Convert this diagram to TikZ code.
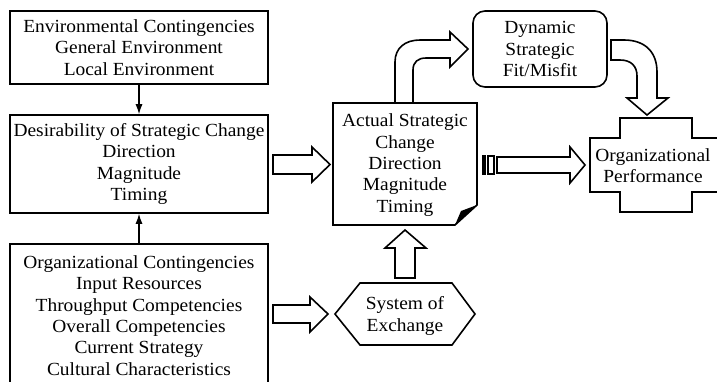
\documentclass[tikz,border=0pt]{standalone}
\usepackage{fontspec}
\setmainfont{Liberation Serif}[FakeStretch=1.05]
\usetikzlibrary{arrows.meta,shapes.geometric}
\tikzset{
  lw/.style={line width=1.6pt},
  box/.style={draw,lw,inner sep=0pt,align=center},
  txt/.style={inner sep=0pt,align=center,font=\fontsize{18.5}{21.3}\selectfont},
  blk/.style={draw,lw,line join=miter,fill=white},
  thinarrow/.style={line width=1.2pt,-{Latex[length=10pt,width=7pt]}}
}
\begin{document}
\begin{tikzpicture}[x=1pt,y=-1pt]
\clip (0,0) rectangle (717,381);
\fill[white] (0,0) rectangle (717,381);
% left boxes
\node[box,txt,minimum width=258pt,minimum height=73pt] (env) at (139,47.5)
  {Environmental Contingencies\\General Environment\\Local Environment};
\node[box,txt,minimum width=258pt,minimum height=98pt] (desir) at (139,164)
  {Desirability of Strategic Change\\Direction\\Magnitude\\Timing};
\draw[lw] (10,390) -- (10,244) coordinate (orgtl) -- (268,244) coordinate (orgtr) -- (268,390);
\coordinate (orgtop) at (139,244);
\node[txt] (org) at (139,315.5)
  {Organizational Contingencies\\Input Resources\\Throughput Competencies\\Overall Competencies\\Current Strategy\\Cultural Characteristics};
\draw[thinarrow] (env.south) -- (desir.north);
\draw[thinarrow] (orgtop) -- (desir.south);
% actual strategic change (folded corner)
\draw[lw,line join=miter] (333,103) -- (477,103) -- (477,205) -- (455,225) -- (333,225) -- cycle;
\fill (455,225) -- (477,205) -- (461,211) -- cycle;
\node[txt] (act) at (405,165) {Actual Strategic\\Change\\Direction\\Magnitude\\Timing};
% dynamic
\node[box,txt,rounded corners=12pt,minimum width=134pt,minimum height=76pt] (dyn) at (540,49)
  {Dynamic\\Strategic\\Fit/Misfit};
% system of exchange
\draw[lw,line join=miter] (335,314) -- (360,283) -- (452,283) -- (475,314) -- (452,345) -- (360,345) -- cycle;
\node[txt] (sys) at (405,316) {System of\\Exchange};
% organizational performance
\draw[lw,line join=miter] (620,118) -- (692,118) -- (692,138) -- (720,138) -- (720,192) -- (692,192) -- (692,212) -- (620,212) -- (620,192) -- (590,192) -- (590,138) -- (620,138) -- cycle;
\node[txt] (perf) at (653,166) {Organizational\\Performance};
% block arrows
\draw[blk] (273,155) -- (312,155) -- (312,147) -- (330,164.5) -- (312,182) -- (312,174) -- (273,174) -- cycle;
\draw[blk] (273,305) -- (310,305) -- (310,297) -- (328,314) -- (310,332) -- (310,323) -- (273,323) -- cycle;
\draw[blk] (395,278) -- (395,248) -- (385,248) -- (405,230) -- (426,248) -- (415,248) -- (415,278) -- cycle;
\fill (482,155) rectangle (486,175);
\draw[line width=1.2pt] (488,156) rectangle (494,174);
\draw[blk] (497,157) -- (570,157) -- (570,147) -- (585,165) -- (570,183) -- (570,173) -- (497,173) -- cycle;
% curved arrow actual -> dynamic
\draw[lw,line join=miter] (395,103) -- (395,62) .. controls (395,48) and (405,40) .. (420,40) -- (450,40) -- (450,32) -- (468,49) -- (450,67) -- (450,58) -- (426,58) .. controls (418,58) and (413,62) .. (413,70) -- (413,103);
% curved arrow dynamic -> performance
\draw[blk] (611,40) -- (624,40) .. controls (645,40) and (657,52) .. (657,72) -- (657,98) -- (668,98) -- (647,115) -- (627,98) -- (637,98) -- (637,76) .. controls (637,66) and (631,60) .. (620,60) -- (611,60) -- cycle;
\end{tikzpicture}
\end{document}
